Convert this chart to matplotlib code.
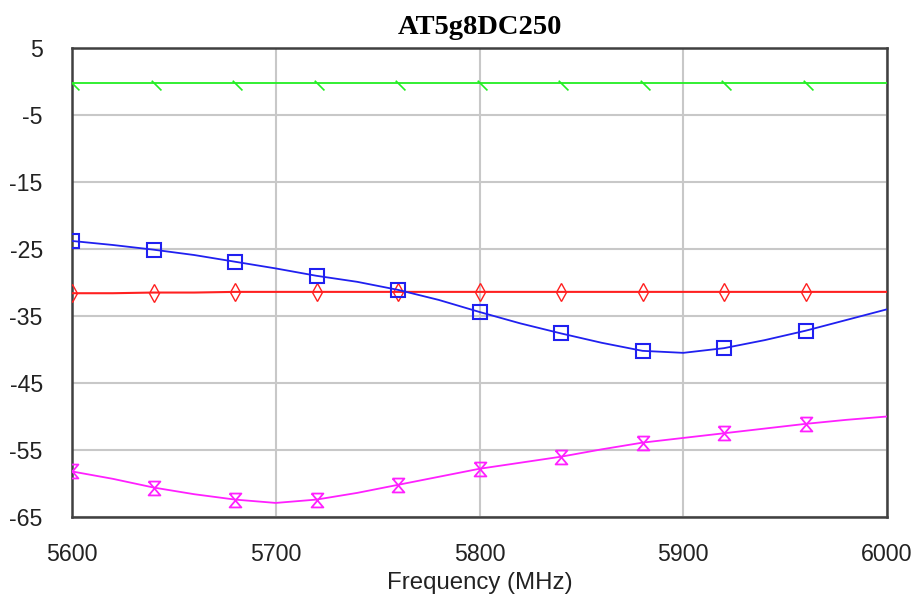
import matplotlib
matplotlib.use('Agg')
import matplotlib.pyplot as plt
from matplotlib.path import Path

plt.rcParams['axes.unicode_minus'] = False

# frequency grid (MHz), markers every 40 MHz
freq = list(range(5600, 6001, 20))

green = [-0.2] * 21
red = [-31.6, -31.6, -31.5, -31.5, -31.4, -31.4, -31.4, -31.4, -31.4, -31.4, -31.4,
       -31.4, -31.4, -31.4, -31.4, -31.4, -31.4, -31.4, -31.4, -31.4, -31.4]
blue = [-23.8, -24.4, -25.1, -25.9, -26.9, -27.9, -29.0, -29.9, -31.1, -32.6, -34.4,
        -36.1, -37.6, -39.0, -40.2, -40.5, -39.8, -38.6, -37.2, -35.6, -34.0]
magenta = [-58.2, -59.3, -60.6, -61.6, -62.4, -62.9, -62.4, -61.4, -60.2, -59.0, -57.8,
           -56.9, -56.0, -54.9, -53.9, -53.2, -52.5, -51.8, -51.1, -50.5, -50.0]

xticks = [5600, 5700, 5800, 5900, 6000]
yticks = [5, -5, -15, -25, -35, -45, -55, -65]

slash = Path([(-0.4, 0.4), (1.0, -1.0)], [Path.MOVETO, Path.LINETO])
hourglass = Path([(-0.85, 1), (0.85, 1), (-0.85, -1), (0.85, -1), (-0.85, 1)],
                 [Path.MOVETO, Path.LINETO, Path.LINETO, Path.LINETO, Path.LINETO])

fig = plt.figure(figsize=(9.13, 5.96), dpi=100)
ax = fig.add_axes([72 / 913, 1 - 517 / 596, (887 - 72) / 913, (517 - 48) / 596])

marks = slice(0, 19, 2)
ax.plot(freq, green, color='#22ee22', lw=1.3, marker=slash, ms=10, markevery=marks,
        mew=1.2, zorder=3)
ax.plot(freq, red, color='#ff2020', lw=1.5, marker='d', ms=9, mfc='none', mew=1.0,
        markevery=marks, zorder=3)
ax.plot(freq, blue, color='#2020f0', lw=1.3, marker='s', ms=10, mfc='none', mew=1.5,
        markevery=marks, zorder=3)
ax.plot(freq, magenta, color='#ff20ff', lw=1.3, marker=hourglass, ms=10, mfc='none',
        mew=1.3, markevery=marks, zorder=3)

ax.set_xlim(5600, 6000)
ax.set_ylim(-65, 5)
ax.set_xticks(xticks)
ax.set_yticks(yticks)
ax.grid(True, color='#c8c8c8', lw=1.5)
ax.tick_params(length=0, labelsize=16.7, colors='#222222')
ax.tick_params(axis='y', pad=21)
ax.tick_params(axis='x', pad=19)
for s in ax.spines.values():
    s.set_color('#404040')
    s.set_linewidth(1.8)

for lab in ax.get_xticklabels() + ax.get_yticklabels():
    lab.set_family('Liberation Sans')

ax.set_xlabel('Frequency (MHz)', fontsize=17.3, family='Liberation Sans',
              color='#222222', labelpad=4)
ax.set_title('AT5g8DC250', fontsize=20.5, fontweight='bold', family='Liberation Serif',
             pad=10)

fig.savefig('out.png', dpi=100)
